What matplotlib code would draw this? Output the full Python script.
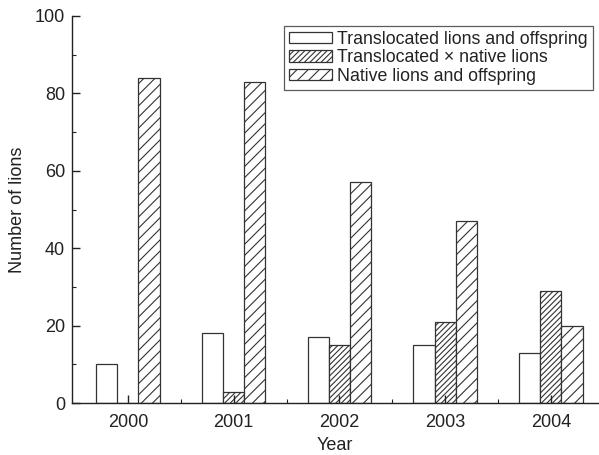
import numpy as np
import matplotlib.pyplot as plt
from matplotlib.ticker import MultipleLocator, FixedLocator

plt.rcParams['font.family'] = ['Liberation Sans', 'DejaVu Sans']
plt.rcParams['hatch.linewidth'] = 0.8
plt.rcParams['hatch.color'] = '#333333'

years = ['2000', '2001', '2002', '2003', '2004']
translocated = [10, 18, 17, 15, 13]
cross = [0, 3, 15, 21, 29]
native = [84, 83, 57, 47, 20]

fig = plt.figure(figsize=(5.99, 4.55), dpi=100)
ax = fig.add_axes([0.120, 0.114, 0.879, 0.851])

x = np.arange(len(years))
w = 0.2
ec = '#333333'
ax.bar(x - w, translocated, w, facecolor='white', edgecolor=ec, linewidth=0.9,
       label='Translocated lions and offspring')
ax.bar(x, cross, w, facecolor='white', edgecolor=ec, linewidth=0.9, hatch='//////',
       label='Translocated \u00d7 native lions')
ax.bar(x + w, native, w, facecolor='white', edgecolor=ec, linewidth=0.9, hatch='///',
       label='Native lions and offspring')

ax.set_xlim(-0.53, 4.45)
ax.set_ylim(0, 100)
ax.set_xticks(x)
ax.set_xticklabels(years)
ax.xaxis.set_minor_locator(FixedLocator(x[:-1] + 0.5))
ax.yaxis.set_major_locator(MultipleLocator(20))
ax.yaxis.set_minor_locator(MultipleLocator(10))
ax.tick_params(which='both', direction='in', labelsize=13, colors='#222222')
ax.tick_params(which='major', length=6, width=1)
ax.tick_params(which='minor', length=3, width=0.8)
ax.tick_params(axis='x', pad=8)
ax.tick_params(axis='y', pad=5)
ax.spines['top'].set_visible(False)
ax.spines['right'].set_visible(False)
for s in ['left', 'bottom']:
    ax.spines[s].set_color('#222222')
    ax.spines[s].set_linewidth(1)

ax.set_xlabel('Year', fontsize=13, color='#222222', labelpad=4)
ax.set_ylabel('Number of lions', fontsize=13, color='#222222', labelpad=6)

leg = ax.legend(loc='upper right', bbox_to_anchor=(0.99, 0.975), fontsize=12.8,
                frameon=True, fancybox=False, edgecolor='#333333',
                handlelength=2.4, handleheight=0.6, handletextpad=0.3,
                labelspacing=0.08, borderpad=0.3, borderaxespad=0)
leg.get_frame().set_linewidth(0.9)
for t in leg.get_texts():
    t.set_color('#222222')

fig.savefig('out.png', dpi=100)
